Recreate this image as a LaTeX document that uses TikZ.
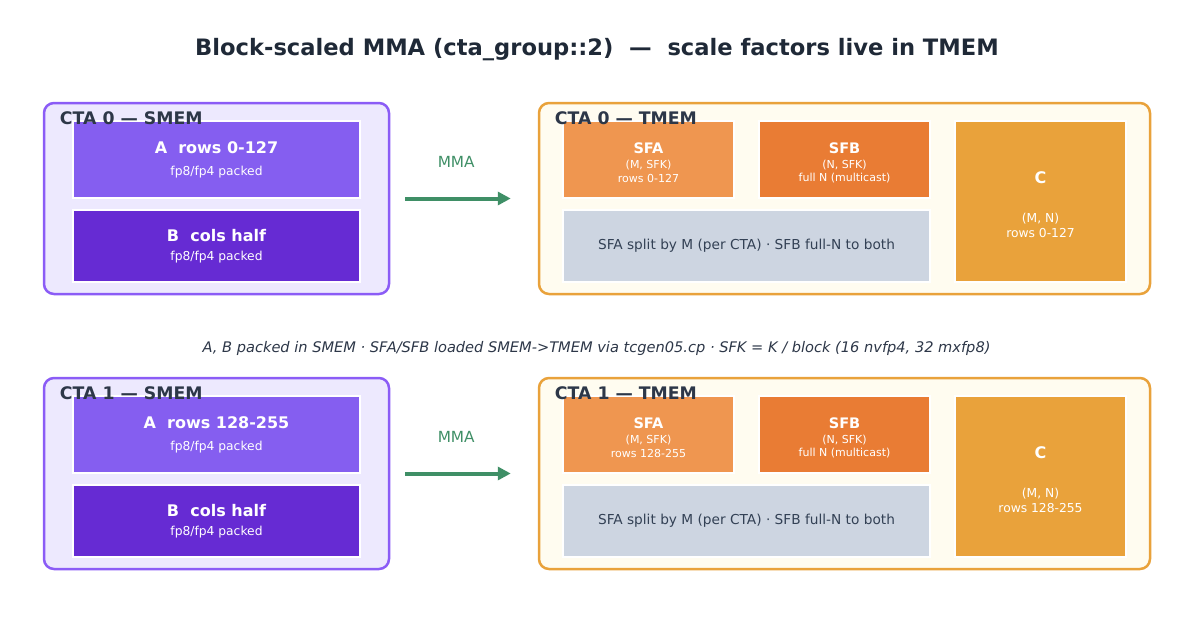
\documentclass[tikz,border=0pt]{standalone}
\usepackage{fontspec}
\setmainfont{DejaVu Sans}
\usetikzlibrary{arrows.meta,calc}
\definecolor{titlecol}{HTML}{1F2937}
\definecolor{labcol}{HTML}{2D3748}
\definecolor{smemfill}{HTML}{EDE9FE}
\definecolor{smemdraw}{HTML}{8B5CF6}
\definecolor{afill}{HTML}{855EF0}
\definecolor{bfill}{HTML}{662BD3}
\definecolor{tmemfill}{HTML}{FFFCF0}
\definecolor{tmemdraw}{HTML}{E9A23B}
\definecolor{sfafill}{HTML}{EF9650}
\definecolor{sfbfill}{HTML}{E97C34}
\definecolor{splitfill}{HTML}{CDD5E1}
\definecolor{cfill}{HTML}{E9A23B}
\definecolor{splittext}{HTML}{334155}
\definecolor{mmagreen}{HTML}{3F8F66}
\begin{document}
\begin{tikzpicture}[x=1pt,y=-1pt,
  outerbox/.style={line width=2.5pt, rounded corners=10pt, minimum height=191pt, inner sep=0pt},
  smembox/.style={outerbox, draw=smemdraw, fill=smemfill, minimum width=345pt},
  tmembox/.style={outerbox, draw=tmemdraw, fill=tmemfill, minimum width=611pt},
  innerbox/.style={draw=white, line width=2pt, inner sep=0pt},
  boxlabel/.style={anchor=west, inner sep=0pt, text=labcol, font=\fontsize{17.3}{20}\selectfont\bfseries},
  bigw/.style={inner sep=0pt, text=white, font=\fontsize{16}{19}\selectfont\bfseries},
  midw/.style={inner sep=0pt, text=white, font=\fontsize{14.5}{17}\selectfont\bfseries},
  subw/.style={inner sep=0pt, text=white, font=\fontsize{12.3}{14}\selectfont},
  smallw/.style={inner sep=0pt, text=white, font=\fontsize{11}{13}\selectfont},
  mmaarrow/.style={draw=mmagreen, line width=4pt, -{Triangle[length=13pt,width=13pt]}},
]
\useasboundingbox (0,0) rectangle (1199,621);
\node[inner sep=0pt, text=titlecol, font=\fontsize{22.6}{27}\selectfont\bfseries] (title) at (597,50)
  {Block-scaled MMA (cta\_group::2)\ \ —\ \ scale factors live in TMEM};
\node[inner sep=0pt, text=labcol, font=\fontsize{14.6}{17}\selectfont\itshape] (caption) at (596.5,348)
  {A, B packed in SMEM · SFA/SFB loaded SMEM->TMEM via tcgen05.cp · SFK = K / block (16 nvfp4, 32 mxfp8)};
\foreach \r/\dy/\rows in {0/0/0-127, 1/275/128-255}{
  % SMEM side
  \node[smembox] (smem\r) at (216.5,{198.5+\dy}) {};
  \node[innerbox, fill=afill, minimum width=287pt, minimum height=77pt] (A\r) at (216.5,{159.5+\dy}) {};
  \node[innerbox, fill=bfill, minimum width=287pt, minimum height=72pt] (B\r) at (216.5,{246+\dy}) {};
  \node[bigw] (At\r) at ($(A\r.center)+(0,-11.5)$) {A\ \ rows \rows};
  \node[subw] (As\r) at ($(A\r.center)+(0,12.5)$) {fp8/fp4 packed};
  \node[bigw] (Bt\r) at ($(B\r.center)+(0,-10)$) {B\ \ cols half};
  \node[subw] (Bs\r) at ($(B\r.center)+(0,11)$) {fp8/fp4 packed};
  \node[boxlabel] (smemlab\r) at ($(smem\r.north west)+(17,16.5)$) {CTA \r\ — SMEM};
  % TMEM side
  \node[tmembox] (tmem\r) at (844.5,{198.5+\dy}) {};
  \node[innerbox, fill=sfafill, minimum width=171pt, minimum height=77pt] (SFA\r) at (648.5,{159.5+\dy}) {};
  \node[innerbox, fill=sfbfill, minimum width=171pt, minimum height=77pt] (SFB\r) at (844.5,{159.5+\dy}) {};
  \node[innerbox, fill=splitfill, minimum width=367pt, minimum height=72pt] (split\r) at (746.5,{246+\dy}) {};
  \node[innerbox, fill=cfill, minimum width=171pt, minimum height=161pt] (C\r) at (1040.5,{201.5+\dy}) {};
  \node[midw] (SFAt\r) at ($(SFA\r.center)+(0,-11.5)$) {SFA};
  \node[smallw] (SFAa\r) at ($(SFA\r.center)+(0,5.5)$) {(M, SFK)};
  \node[smallw] (SFAb\r) at ($(SFA\r.center)+(0,18.5)$) {rows \rows};
  \node[midw] (SFBt\r) at ($(SFB\r.center)+(0,-11.5)$) {SFB};
  \node[smallw] (SFBa\r) at ($(SFB\r.center)+(0,5.5)$) {(N, SFK)};
  \node[smallw] (SFBb\r) at ($(SFB\r.center)+(0,18.5)$) {full N (multicast)};
  \node[inner sep=0pt, text=splittext, font=\fontsize{13.7}{16}\selectfont] (splitt\r) at (split\r.center)
    {SFA split by M (per CTA) · SFB full-N to both};
  \node[inner sep=0pt, text=white, font=\fontsize{16}{19}\selectfont\bfseries] (Ct\r) at ($(C\r.center)+(0,-23.5)$) {C};
  \node[subw] (Ca\r) at ($(C\r.center)+(0,17.5)$) {(M, N)};
  \node[subw] (Cb\r) at ($(C\r.center)+(0,31.5)$) {rows \rows};
  \node[boxlabel] (tmemlab\r) at ($(tmem\r.north west)+(17,16.5)$) {CTA \r\ — TMEM};
  % arrow
  \draw[mmaarrow, shorten <=15pt, shorten >=27pt] (smem\r.east) -- (tmem\r.west)
    node[pos=0.447, above=29pt, inner sep=0pt, text=mmagreen, font=\fontsize{15.3}{18}\selectfont] (mma\r) {MMA};
}
\end{tikzpicture}
\end{document}
